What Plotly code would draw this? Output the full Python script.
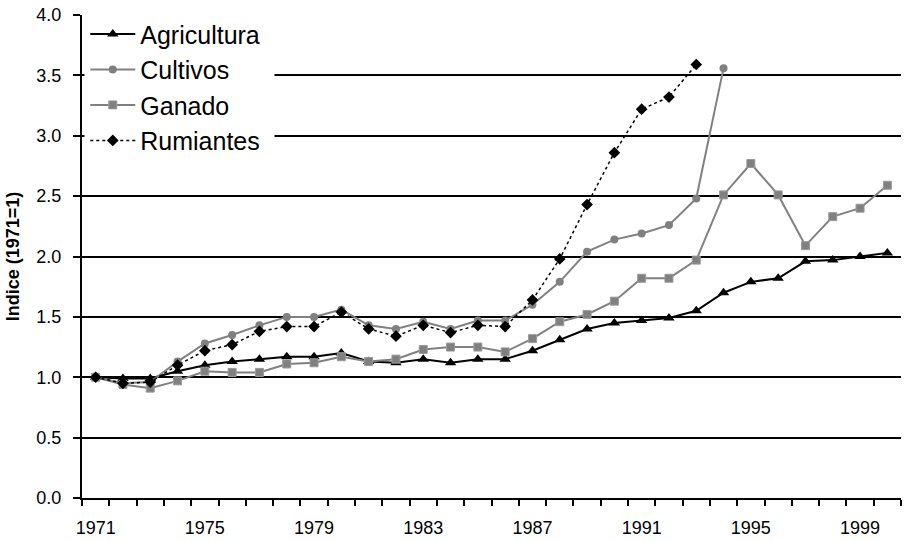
import plotly.graph_objects as go

years = list(range(1971, 2001))

agricultura = [1.00, 0.99, 0.99, 1.05, 1.10, 1.13, 1.15, 1.17, 1.17, 1.20,
               1.13, 1.12, 1.15, 1.12, 1.15, 1.15, 1.22, 1.31, 1.40, 1.45,
               1.47, 1.49, 1.55, 1.70, 1.79, 1.82, 1.96, 1.97, 2.00, 2.03]

cultivos = [1.00, 0.95, 0.96, 1.13, 1.28, 1.35, 1.43, 1.50, 1.50, 1.56,
            1.43, 1.40, 1.46, 1.40, 1.47, 1.47, 1.60, 1.79, 2.04, 2.14,
            2.19, 2.26, 2.48, 3.56, None, None, None, None, None, None]

ganado = [1.00, 0.94, 0.91, 0.97, 1.05, 1.04, 1.04, 1.11, 1.12, 1.17,
          1.13, 1.15, 1.23, 1.25, 1.25, 1.21, 1.32, 1.46, 1.52, 1.63,
          1.82, 1.82, 1.97, 2.51, 2.77, 2.51, 2.09, 2.33, 2.40, 2.59]

rumiantes = [1.00, 0.95, 0.96, 1.10, 1.22, 1.27, 1.38, 1.42, 1.42, 1.54,
             1.40, 1.34, 1.43, 1.37, 1.43, 1.42, 1.64, 1.98, 2.43, 2.86,
             3.22, 3.32, 3.59, None, None, None, None, None, None, None]

x_tick_labels = [1971, 1975, 1979, 1983, 1987, 1991, 1995, 1999]
y_ticks = [0.0, 0.5, 1.0, 1.5, 2.0, 2.5, 3.0, 3.5, 4.0]

GREY = "#808080"
FONT = "Arial, Liberation Sans, sans-serif"

fig = go.Figure()
fig.add_trace(go.Scatter(x=years, y=agricultura, name="Agricultura", mode="lines+markers",
                         line=dict(color="black", width=2),
                         marker=dict(symbol="triangle-up", size=10, color="black")))
fig.add_trace(go.Scatter(x=years, y=cultivos, name="Cultivos", mode="lines+markers",
                         line=dict(color=GREY, width=2),
                         marker=dict(symbol="circle", size=8, color=GREY)))
fig.add_trace(go.Scatter(x=years, y=ganado, name="Ganado", mode="lines+markers",
                         line=dict(color=GREY, width=2),
                         marker=dict(symbol="square", size=8, color=GREY,
                                     line=dict(color="#9a9a9a", width=1))))
fig.add_trace(go.Scatter(x=years, y=rumiantes, name="Rumiantes", mode="lines+markers",
                         line=dict(color="black", width=1.5, dash="3px,3px"),
                         marker=dict(symbol="diamond", size=9, color="black")))

# white background panel behind the legend (hides the gridlines there, as in the original)
fig.add_shape(type="rect", xref="paper", yref="paper",
              x0=0.003, x1=0.235, y0=0.73, y1=0.985,
              fillcolor="white", line=dict(width=0), layer="above")

fig.update_layout(
    width=905, height=541,
    margin=dict(l=82, r=4, t=15, b=43),
    paper_bgcolor="white", plot_bgcolor="white",
    font=dict(family=FONT, size=18, color="black"),
    showlegend=True,
    legend=dict(x=0.004, y=1.008, xanchor="left", yanchor="top",
                bgcolor="rgba(0,0,0,0)", borderwidth=0,
                font=dict(size=25, family=FONT, color="black"),
                itemwidth=45, tracegroupgap=0),
)

fig.update_xaxes(
    range=[1970.5, 2000.5],
    tickmode="array", tickvals=x_tick_labels,
    ticks="", ticklabelstandoff=12, automargin=False,
    showgrid=False, zeroline=False,
    showline=True, linecolor="black", linewidth=2,
    tickfont=dict(size=18),
    minor=dict(tickmode="array", tickvals=[y - 0.5 for y in years] + [2000.5],
               ticks="outside", ticklen=6, tickcolor="black", tickwidth=2, showgrid=False),
)

fig.update_yaxes(
    range=[0, 4.0],
    tickmode="array", tickvals=y_ticks, tickformat=".1f",
    ticks="outside", ticklen=7, tickcolor="black", tickwidth=2,
    ticklabelstandoff=8, automargin=False,
    showgrid=True, gridcolor="black", gridwidth=1.5,
    zeroline=False,
    showline=True, linecolor="black", linewidth=2,
    tickfont=dict(size=18),
    title=dict(text="<b>Indice (1971=1)</b>", font=dict(size=18), standoff=12),
)

fig.write_html("out.html", config={"displayModeBar": False},
               post_script="document.body.style.margin='0';")
